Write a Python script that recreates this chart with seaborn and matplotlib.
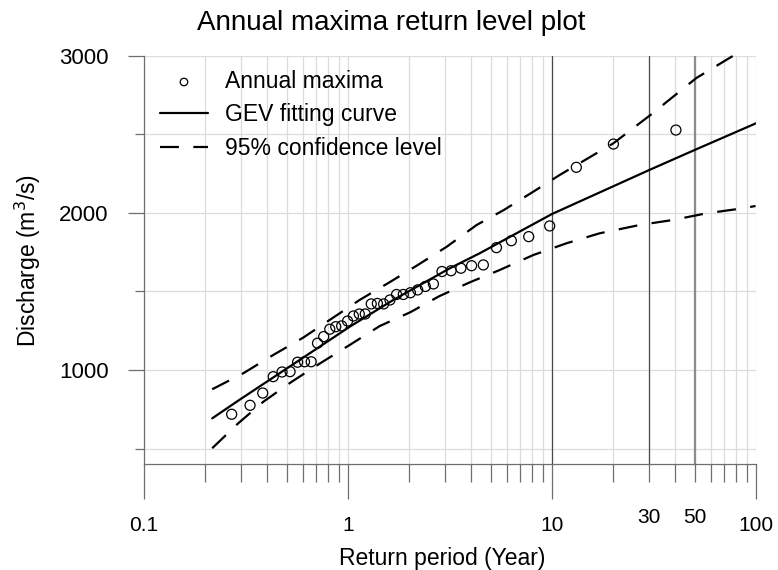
import matplotlib
matplotlib.use("Agg")
import matplotlib.pyplot as plt
from matplotlib.ticker import FixedLocator, FixedFormatter
import seaborn as sns

# Annual maxima: empirical return period (years) and peak discharge (m3/s)
obs_period = [0.269, 0.331, 0.382, 0.430, 0.475, 0.520, 0.566, 0.612, 0.660, 0.709,
              0.760, 0.814, 0.871, 0.931, 0.995, 1.063, 1.136, 1.215, 1.300, 1.393,
              1.495, 1.606, 1.730, 1.867, 2.022, 2.196, 2.394, 2.622, 2.888, 3.201,
              3.577, 4.035, 4.607, 5.342, 6.320, 7.689, 9.742, 13.16, 20.00, 40.50]
obs_discharge = [719, 776, 854, 958, 988, 990, 1050, 1053, 1053, 1171,
                 1213, 1260, 1276, 1281, 1312, 1344, 1357, 1357, 1421, 1424,
                 1421, 1446, 1481, 1481, 1492, 1510, 1532, 1548, 1627, 1632,
                 1648, 1664, 1669, 1779, 1823, 1849, 1917, 2290, 2438, 2527]

# GEV fitted return level curve
fit_period = [0.216, 0.29, 0.676, 1.02, 1.667, 3.16, 4.42, 10, 30, 50, 100]
fit_discharge = [693, 806, 1122, 1276, 1446, 1648, 1743, 1993, 2273, 2400, 2570]

# 95% confidence bounds
upper_period = [0.216, 0.307, 0.43, 0.604, 1.14, 1.6, 2.17, 3.05, 4.27, 5.8,
                8.1, 10.9, 20, 30.4, 51, 86]
upper_discharge = [878, 980, 1096, 1207, 1446, 1559, 1664, 1785, 1923, 2018,
                   2135, 2241, 2443, 2623, 2858, 3036]
lower_period = [0.216, 0.29, 0.385, 0.53, 0.73, 1.02, 1.43, 2.02, 2.8, 3.95,
                5.55, 8.1, 11.8, 17.1, 26.9, 39.2, 57, 86, 99.5]
lower_discharge = [503, 662, 799, 926, 1043, 1160, 1280, 1368, 1470, 1558,
                   1637, 1732, 1807, 1870, 1923, 1955, 1997, 2029, 2044]

x_major = [0.1, 1, 10, 100]
x_major_labels = ["0.1", "1", "10", "100"]
x_minor = [0.2, 0.3, 0.4, 0.5, 0.6, 0.7, 0.8, 0.9,
           2, 3, 4, 5, 6, 7, 8, 9,
           20, 30, 40, 50, 60, 70, 80, 90]
x_minor_labels = ["30" if v == 30 else "50" if v == 50 else "" for v in x_minor]
y_major = [1000, 2000, 3000]
y_minor = [500, 1500, 2500]

sns.set_style("ticks")
plt.rcParams["font.family"] = ["Liberation Sans", "DejaVu Sans"]
plt.rcParams.update({
    "text.color": "black",
    "axes.labelcolor": "black",
    "xtick.labelcolor": "black",
    "ytick.labelcolor": "black",
})

AX_GRAY = "#6e6e6e"
GRID = "#dcdcdc"
DASH = (0, (8.5, 6.5))

fig = plt.figure(figsize=(7.78, 5.70), dpi=100)
ax = fig.add_axes([144 / 778, 1 - 464.4 / 570, 612 / 778, 408.7 / 570])

sns.scatterplot(x=obs_period, y=obs_discharge, ax=ax, marker="o", s=52,
                facecolors="none", edgecolors="black", linewidth=0.9,
                label="Annual maxima", zorder=4)
sns.lineplot(x=fit_period, y=fit_discharge, ax=ax, color="black", lw=1.6,
             estimator=None, sort=False, label="GEV fitting curve", zorder=3)
sns.lineplot(x=upper_period, y=upper_discharge, ax=ax, color="black", lw=1.6,
             linestyle=DASH, estimator=None, sort=False,
             label="95% confidence level", zorder=3, clip_on=False)
sns.lineplot(x=lower_period, y=lower_discharge, ax=ax, color="black", lw=1.6,
             linestyle=DASH, estimator=None, sort=False, zorder=3)

ax.set_xscale("log")
ax.set_xlim(0.1, 100)
ax.set_ylim(400, 3000)

ax.xaxis.set_major_locator(FixedLocator(x_major))
ax.xaxis.set_major_formatter(FixedFormatter(x_major_labels))
ax.xaxis.set_minor_locator(FixedLocator(x_minor))
ax.xaxis.set_minor_formatter(FixedFormatter(x_minor_labels))
ax.yaxis.set_major_locator(FixedLocator(y_major))
ax.yaxis.set_minor_locator(FixedLocator(y_minor))

ax.grid(which="both", axis="both", color=GRID, lw=0.9, zorder=0)
ax.set_axisbelow(True)

# reference return periods
ax.axvline(10, color="#4a4a4a", lw=0.9, zorder=1)
ax.axvline(30, color="#4a4a4a", lw=0.9, zorder=1)
ax.axvline(50, color="#8c8c8c", lw=1.6, zorder=1)

for side in ("top", "right"):
    ax.spines[side].set_visible(False)
for side in ("left", "bottom"):
    ax.spines[side].set_color(AX_GRAY)
    ax.spines[side].set_linewidth(0.9)

ax.tick_params(axis="x", which="major", bottom=True, direction="out", length=25,
               width=0.9, color=AX_GRAY, labelsize=15, pad=12, labelcolor="black")
ax.tick_params(axis="x", which="minor", bottom=True, direction="out", length=13,
               width=0.9, color=AX_GRAY, labelsize=15, pad=18.5, labelcolor="black")
ax.tick_params(axis="y", which="major", left=True, direction="out", length=11.5,
               width=0.9, color=AX_GRAY, labelsize=16, pad=14, labelcolor="black")
ax.tick_params(axis="y", which="minor", left=True, direction="out", length=6.5,
               width=0.9, color=AX_GRAY)

ax.set_xlabel("Return period (Year)", fontsize=16.5, color="black")
ax.set_ylabel("Discharge (m$^3$/s)", fontsize=16.5, color="black")
ax.xaxis.set_label_coords(0.487, -0.203)
ax.yaxis.set_label_coords(-0.165, 0.5)

fig.suptitle("Annual maxima return level plot", fontsize=20, x=0.503,
             y=1 - 23 / 570, va="center", color="black")

leg = ax.legend(loc="upper left", bbox_to_anchor=(0.026, 0.965), frameon=False,
                fontsize=16.5, borderaxespad=0, borderpad=0, handlelength=2.1,
                handletextpad=0.75, labelspacing=0.45, markerscale=0.75)
for t in leg.get_texts():
    t.set_color("black")

fig.savefig("out.png", dpi=100)
